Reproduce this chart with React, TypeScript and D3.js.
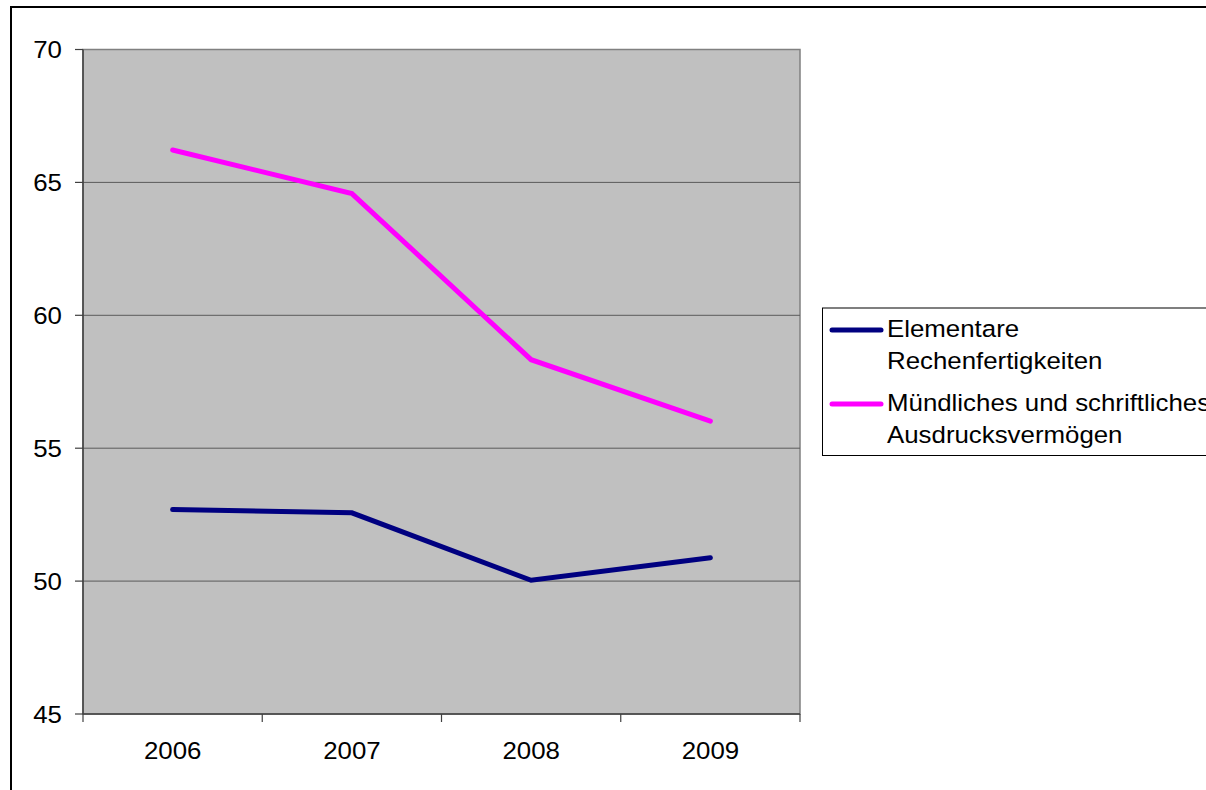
import React from "react";
import * as d3 from "d3";

const years = ["2006", "2007", "2008", "2009"];
const rechnen = [52.69, 52.57, 50.03, 50.88];
const ausdruck = [66.22, 64.58, 58.33, 56.02];
const yTicks = [45, 50, 55, 60, 65, 70];
const seriesNames = [
  ["Elementare", "Rechenfertigkeiten"],
  ["Mündliches und schriftliches", "Ausdrucksvermögen"],
];
const seriesColors = ["#000080", "#FF00FF"];

const W = 1206;
const H = 790;
const plot = { left: 83, right: 800, top: 49.5, bottom: 714 };
const FONT = "'Liberation Sans', Arial, sans-serif";
const FS = 23.5;
const SX = 1.1;

function T({ x, y, anchor = "start", children }: any) {
  return (
    <text
      transform={`translate(${x},${y}) scale(${SX},1)`}
      textAnchor={anchor}
      fontFamily={FONT}
      fontSize={FS}
      fill="#000"
    >
      {children}
    </text>
  );
}

export default function App() {
  const x = d3.scaleBand<string>().domain(years).range([plot.left, plot.right]).padding(0);
  const y = d3.scaleLinear().domain([45, 70]).range([plot.bottom, plot.top]);
  const cx = (yr: string) => (x(yr) as number) + x.bandwidth() / 2;
  const line = d3
    .line<number>()
    .x((_, i) => cx(years[i]))
    .y((v) => y(v));
  const series = [rechnen, ausdruck];
  const boundaries = [...years.map((yr) => x(yr) as number), plot.right];

  return (
    <>
      <style>{`html,body{margin:0;padding:0;overflow:hidden;background:#fff}`}</style>
      <svg
        width={W}
        height={H}
        style={{ position: "fixed", left: 0, top: 0, display: "block" }}
      >
        <defs>
          <clipPath id="frame">
            <rect x={0} y={0} width={W} height={H} />
          </clipPath>
        </defs>
        <g clipPath="url(#frame)">
          <rect x={0} y={0} width={W} height={H} fill="#fff" />
          <line x1={11} x2={11} y1={7} y2={H} stroke="#000" strokeWidth={2} />
          <line x1={10} x2={W} y1={7} y2={7} stroke="#000" strokeWidth={2} />
          <rect
            x={plot.left}
            y={plot.top}
            width={plot.right - plot.left}
            height={plot.bottom - plot.top}
            fill="#C0C0C0"
            stroke="#808080"
            strokeWidth={1.5}
          />
          {yTicks.slice(1, -1).map((t) => (
            <line key={t} x1={plot.left} x2={plot.right} y1={y(t)} y2={y(t)} stroke="#5a5a5a" strokeWidth={1} />
          ))}
          <line x1={plot.left} x2={plot.left} y1={plot.top} y2={plot.bottom} stroke="#404040" strokeWidth={1.5} />
          <line x1={plot.left} x2={plot.right} y1={plot.bottom} y2={plot.bottom} stroke="#404040" strokeWidth={1.5} />
          {yTicks.map((t) => (
            <g key={t}>
              <line x1={plot.left - 8} x2={plot.left} y1={y(t)} y2={y(t)} stroke="#404040" strokeWidth={1.2} />
              <T x={62} y={y(t) + 8.5} anchor="end">{t}</T>
            </g>
          ))}
          {boundaries.map((b, i) => (
            <line key={i} x1={b} x2={b} y1={plot.bottom} y2={plot.bottom + 8} stroke="#404040" strokeWidth={1.2} />
          ))}
          {years.map((yr) => (
            <T key={yr} x={cx(yr)} y={759} anchor="middle">{yr}</T>
          ))}
          {series.map((s, i) => (
            <path
              key={i}
              d={line(s) as string}
              fill="none"
              stroke={seriesColors[i]}
              strokeWidth={5}
              strokeLinecap="round"
              strokeLinejoin="miter"
            />
          ))}
          <rect x={822.5} y={308} width={500} height={147.5} fill="#fff" stroke="#000" strokeWidth={1} />
          {seriesNames.map((names, i) => {
            const ly = 330 + i * 74;
            return (
              <g key={i}>
                <line x1={832} x2={881} y1={ly} y2={ly} stroke={seriesColors[i]} strokeWidth={5} strokeLinecap="round" />
                <T x={887} y={ly + 7}>{names[0]}</T>
                <T x={887} y={ly + 39}>{names[1]}</T>
              </g>
            );
          })}
        </g>
      </svg>
    </>
  );
}
